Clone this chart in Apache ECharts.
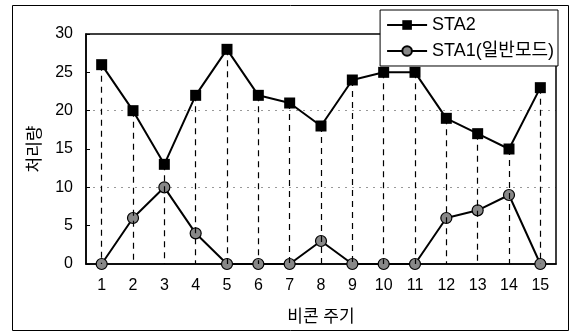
<!DOCTYPE html>
<html>
<head>
<meta charset="utf-8">
<script src="https://cdn.jsdelivr.net/npm/echarts@6/dist/echarts.min.js"></script>
<style>
  html, body { margin: 0; padding: 0; background: #fff; }
  #chart { width: 571px; height: 331px; }
</style>
</head>
<body>
<div id="chart"></div>
<script>
// 비콘 주기
var categories = ['1', '2', '3', '4', '5', '6', '7', '8', '9', '10', '11', '12', '13', '14', '15'];
var sta2 = [26, 20, 13, 22, 28, 22, 21, 18, 24, 25, 25, 19, 17, 15, 23];
var sta1 = [0, 6, 10, 4, 0, 0, 0, 3, 0, 0, 0, 6, 7, 9, 0];
var seriesNames = ['STA2', 'STA1(일반모드)'];

var font = 'Liberation Sans, Arial, "Noto Sans CJK KR", sans-serif';

// dashed drop lines from every STA2 point down to 0
var dropLines = sta2.map(function (v, i) {
  return [{ coord: [i, v] }, { coord: [i, 0] }];
});

var chart = echarts.init(document.getElementById('chart'));
var option = {
  animation: false,
  backgroundColor: '#fff',
  textStyle: { fontFamily: font, color: '#000' },
  graphic: [{
    type: 'rect',
    left: 10, top: 3,
    shape: { width: 556, height: 325 },
    style: { fill: 'none', stroke: '#000', lineWidth: 1 }
  }],
  grid: { left: 86, right: 15, top: 34, bottom: 66, show: true, borderColor: '#000', borderWidth: 1.5, z: 1 },
  legend: {
    orient: 'vertical',
    right: 13, top: 10,
    itemWidth: 40, itemHeight: 12, itemGap: 8,
    padding: [6, 4, 6, 6],
    backgroundColor: '#fff',
    borderColor: '#000', borderWidth: 1,
    textStyle: { fontSize: 18, fontFamily: font, color: '#000' },
    data: seriesNames,
    z: 10
  },
  xAxis: {
    type: 'category',
    data: categories,
    name: '비콘 주기',
    nameLocation: 'middle',
    nameGap: 45,
    nameTextStyle: { fontSize: 17, fontFamily: font, color: '#000' },
    axisLine: { lineStyle: { color: '#000', width: 1.5 } },
    axisTick: { inside: true, length: 4, lineStyle: { color: '#000' } },
    axisLabel: { fontSize: 16, margin: 14, color: '#000' },
    splitLine: { show: false }
  },
  yAxis: [{
    type: 'value',
    min: 0, max: 30, interval: 5,
    name: '처리량',
    nameLocation: 'middle',
    nameGap: 40,
    nameRotate: 90,
    nameTextStyle: { fontSize: 17, fontFamily: font, color: '#000' },
    axisLine: { show: true, lineStyle: { color: '#000', width: 1.5 } },
    axisTick: { show: true, inside: true, length: 4, lineStyle: { color: '#000' } },
    axisLabel: { fontSize: 16, margin: 13, color: '#000' },
    splitLine: { show: false }
  }, {
    type: 'value',
    min: 0, max: 30, interval: 10,
    position: 'left',
    axisLine: { show: false },
    axisTick: { show: false },
    axisLabel: { show: false },
    splitLine: { show: true, showMinLine: false, showMaxLine: false, lineStyle: { color: '#999', type: [2, 5], width: 1 } }
  }],
  series: [{
    name: seriesNames[0],
    type: 'line',
    data: sta2,
    symbol: 'rect',
    symbolSize: 11,
    itemStyle: { color: '#000' },
    lineStyle: { color: '#000', width: 2 },
    markLine: {
      silent: true,
      symbol: 'none',
      label: { show: false },
      lineStyle: { color: '#000', type: [6, 5], width: 1.2 },
      data: dropLines
    },
    z: 3
  }, {
    name: seriesNames[1],
    type: 'line',
    data: sta1,
    symbol: 'circle',
    symbolSize: 11,
    itemStyle: { color: '#888', borderColor: '#000', borderWidth: 1.2 },
    lineStyle: { color: '#000', width: 2 },
    z: 4
  }]
};
chart.setOption(option);
</script>
</body>
</html>
